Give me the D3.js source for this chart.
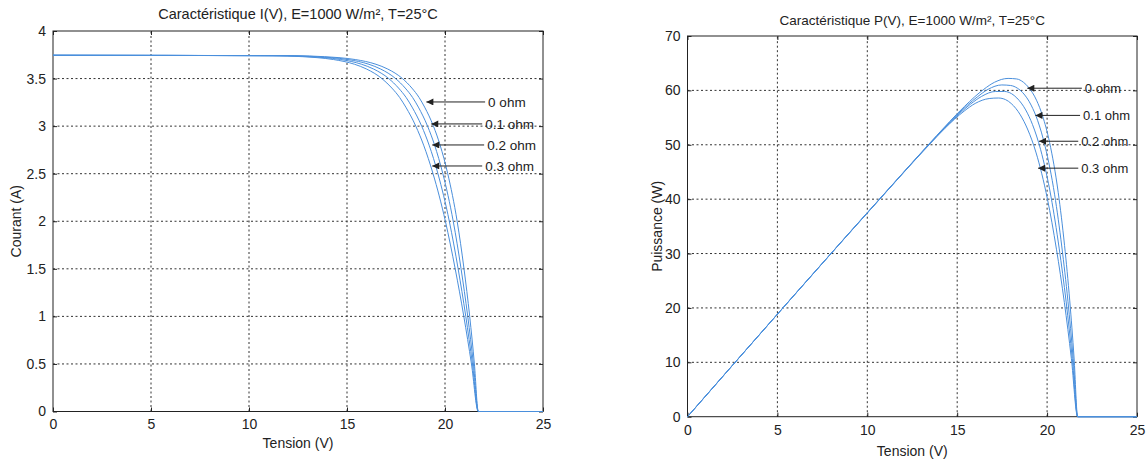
<!DOCTYPE html>
<html>
<head>
<meta charset="utf-8">
<script src="https://cdn.jsdelivr.net/npm/d3@7.9.0/dist/d3.min.js"></script>
<style>
  body { margin: 0; background: #fff; }
  svg { display: block; font-family: "Liberation Sans", Arial, sans-serif; }
  .grid line { stroke: #333; stroke-dasharray: 2,2.5; stroke-width: 1; }
  .frame { fill: none; stroke: #222; stroke-width: 1; }
  .axis path { display: none; }
  .axis line { stroke: #222; }
  .axis text { fill: #222; font-size: 14px; }
</style>
</head>
<body>
<svg id="chart" width="1148" height="462"></svg>
<script>
// resistances and the points
const labels = ["0 ohm", "0.1 ohm", "0.2 ohm", "0.3 ohm"];
const current = [3.745, 3.74, 3.73, 3.72, 3.70, 3.65, 3.6, 3.5, 3.4, 3.3, 3.2, 3.0, 2.8, 2.5, 2.0, 1.5, 1.0, 0.5, 0, 0];
const volt0  = [0, 12.30, 13.86, 14.59, 15.42, 16.48, 17.08, 17.83, 18.31, 18.68, 18.96, 19.41, 19.75, 20.14, 20.62, 20.97, 21.26, 21.50, 21.70, 25];
const volt01 = [0, 11.93, 13.49, 14.22, 15.05, 16.12, 16.72, 17.48, 17.97, 18.35, 18.64, 19.11, 19.47, 19.89, 20.42, 20.82, 21.16, 21.45, 21.70, 25];
const volt02 = [0, 11.55, 13.11, 13.85, 14.68, 15.75, 16.36, 17.13, 17.63, 18.02, 18.32, 18.81, 19.19, 19.64, 20.22, 20.67, 21.06, 21.40, 21.70, 25];
const volt03 = [0, 11.18, 12.74, 13.47, 14.31, 15.39, 16.00, 16.78, 17.29, 17.69, 18.00, 18.51, 18.91, 19.39, 20.02, 20.52, 20.96, 21.35, 21.70, 25];
const pow0  = [0, 46.0, 51.7, 54.3, 57.1, 60.2, 61.5, 62.2, 62.1, 61.5, 60.6, 58.2, 55.3, 50.4, 41.2, 31.5, 21.3, 10.8, 0, 0];
const pow01 = [0, 44.6, 50.3, 52.9, 55.7, 58.8, 60.2, 61.0, 60.9, 60.4, 59.6, 57.3, 54.5, 49.7, 40.8, 31.2, 21.2, 10.7, 0, 0];
const pow02 = [0, 43.2, 48.9, 51.5, 54.3, 57.5, 58.9, 59.8, 59.8, 59.4, 58.6, 56.4, 53.7, 49.1, 40.4, 31.0, 21.1, 10.7, 0, 0];
const pow03 = [0, 41.8, 47.5, 50.1, 53.0, 56.2, 57.6, 58.5, 58.6, 58.3, 57.6, 55.5, 52.9, 48.5, 40.0, 30.8, 21.0, 10.7, 0, 0];

const voltTicks = [0, 5, 10, 15, 20, 25];
const ivTicks = [0, 0.5, 1, 1.5, 2, 2.5, 3, 3.5, 4];
const pvTicks = [0, 10, 20, 30, 40, 50, 60, 70];

// arrow annotations: tip (V, value) and where the text starts
const ivTipV = [19.05, 19.3, 19.35, 19.35];
const ivTipY = [3.254, 3.023, 2.802, 2.581];
const ivTextV = [22.2, 22.05, 22.15, 22.05];
const pvTipV = [18.9, 19.35, 19.55, 19.5];
const pvTipY = [60.4, 55.4, 50.65, 45.7];
const pvTextV = [22.1, 22.0, 21.9, 21.9];

const volts = [volt0, volt01, volt02, volt03];
const pows = [pow0, pow01, pow02, pow03];
const blue = "#4a8fdc";
const fmt = d => String(d);

const svg = d3.select("#chart");
svg.append("rect").attr("width", 1148).attr("height", 462).attr("fill", "#fff");

svg.append("defs").append("marker")
  .attr("id", "head")
  .attr("viewBox", "0 0 10 10")
  .attr("refX", 10).attr("refY", 5)
  .attr("markerWidth", 10).attr("markerHeight", 7)
  .attr("markerUnits", "userSpaceOnUse")
  .attr("orient", "auto")
  .append("path").attr("d", "M0,0 L10,5 L0,10 Z").attr("fill", "#222");

function drawPanel(opt) {
  const x = d3.scaleLinear().domain([0, 25]).range(opt.xr);
  const y = d3.scaleLinear().domain(opt.yd).range(opt.yr);
  const g = svg.append("g");
  const [x0, x1] = opt.xr, [y0, y1] = opt.yr;

  // dotted grid
  const grid = g.append("g").attr("class", "grid");
  grid.selectAll(".gx").data(voltTicks.slice(1, -1)).join("line")
    .attr("x1", d => x(d)).attr("x2", d => x(d)).attr("y1", y0).attr("y2", y1);
  grid.selectAll(".gy").data(opt.yTicks.slice(1, -1)).join("line")
    .attr("y1", d => y(d)).attr("y2", d => y(d)).attr("x1", x0).attr("x2", x1);

  // axes with inward ticks
  g.append("g").attr("class", "axis").attr("transform", `translate(0,${y0})`)
    .call(d3.axisBottom(x).tickValues(voltTicks).tickFormat(fmt).tickSizeInner(-4).tickSizeOuter(0).tickPadding(8));
  g.append("g").attr("class", "axis").attr("transform", `translate(0,${y1})`)
    .call(d3.axisTop(x).tickValues(voltTicks).tickSizeInner(-4).tickSizeOuter(0).tickFormat(""));
  g.append("g").attr("class", "axis").attr("transform", `translate(${x0},0)`)
    .call(d3.axisLeft(y).tickValues(opt.yTicks).tickFormat(fmt).tickSizeInner(-4).tickSizeOuter(0).tickPadding(7));
  g.append("g").attr("class", "axis").attr("transform", `translate(${x1},0)`)
    .call(d3.axisRight(y).tickValues(opt.yTicks).tickSizeInner(-4).tickSizeOuter(0).tickFormat(""));

  g.append("rect").attr("class", "frame")
    .attr("x", x0).attr("y", y1).attr("width", x1 - x0).attr("height", y0 - y1);

  // curves
  const line = d3.line().x(d => x(d[0])).y(d => y(d[1])).curve(d3.curveMonotoneX);
  opt.series.forEach(s => {
    g.append("path").attr("d", line(s)).attr("fill", "none")
      .attr("stroke", blue).attr("stroke-width", 1);
  });

  // annotations
  labels.forEach((lab, i) => {
    const tx = x(opt.textV[i]);
    const ty = y(opt.tipY[i]);
    g.append("line")
      .attr("x1", tx - 3).attr("y1", ty)
      .attr("x2", x(opt.tipV[i])).attr("y2", ty)
      .attr("stroke", "#222").attr("stroke-width", 1)
      .attr("marker-end", "url(#head)");
    g.append("text").attr("x", tx).attr("y", ty).attr("dy", "0.35em")
      .attr("font-size", opt.annSize).attr("fill", "#222").text(lab);
  });

  // titles
  g.append("text").attr("x", (x0 + x1) / 2).attr("y", opt.titleY)
    .attr("text-anchor", "middle").attr("font-size", opt.titleSize).attr("fill", "#222")
    .text(opt.title);
  g.append("text").attr("x", (x0 + x1) / 2).attr("y", opt.xLabelY)
    .attr("text-anchor", "middle").attr("font-size", 14).attr("fill", "#222")
    .text("Tension (V)");
  g.append("text")
    .attr("transform", `translate(${opt.yLabelX},${(y0 + y1) / 2}) rotate(-90)`)
    .attr("text-anchor", "middle").attr("font-size", 14).attr("fill", "#222")
    .text(opt.yLabel);
}

drawPanel({
  xr: [53, 543], yr: [411.5, 31], yd: [0, 4], yTicks: ivTicks,
  series: volts.map(v => v.map((d, j) => [d, current[j]])),
  tipV: ivTipV, tipY: ivTipY, textV: ivTextV, annSize: 13.5,
  title: "Caractéristique I(V), E=1000 W/m², T=25°C", titleY: 19, titleSize: 14.5,
  xLabelY: 448, yLabelX: 21, yLabel: "Courant (A)"
});

drawPanel({
  xr: [687.5, 1137], yr: [416.7, 36], yd: [0, 70], yTicks: pvTicks,
  series: volts.map((v, k) => v.map((d, j) => [d, pows[k][j]])),
  tipV: pvTipV, tipY: pvTipY, textV: pvTextV, annSize: 13,
  title: "Caractéristique P(V), E=1000 W/m², T=25°C", titleY: 25, titleSize: 13.5,
  xLabelY: 456, yLabelX: 662, yLabel: "Puissance (W)"
});
</script>
</body>
</html>
